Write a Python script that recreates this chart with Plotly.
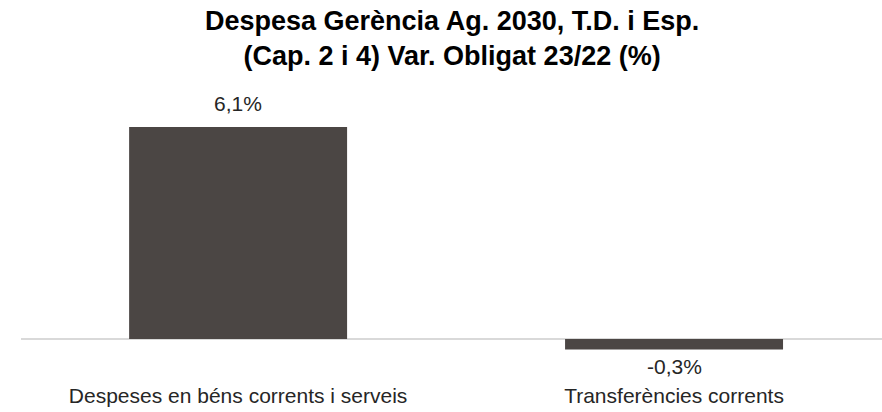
import plotly.graph_objects as go

# Variació de l'obligat 2023/2022 per capítol de despesa
categories = ["Despeses en béns corrents i serveis", "Transferències corrents"]
variation_pct = [6.1, -0.3]

bar_color = "#4b4644"
font_family = "Liberation Sans, Arial, sans-serif"

fig = go.Figure()
fig.add_trace(go.Bar(
    x=categories,
    y=variation_pct,
    width=0.5,
    marker=dict(color=bar_color, line=dict(width=0)),
    hoverinfo="skip",
))

# Etiquetes de valor amb coma decimal
for cat, v in zip(categories, variation_pct):
    label = f"{v:.1f}".replace(".", ",") + "%"
    fig.add_annotation(
        x=cat, y=v, xref="x", yref="y",
        text=label, showarrow=False,
        yanchor="middle",
        yshift=24 if v >= 0 else -17,
        font=dict(family=font_family, size=21, color="#262626"),
    )

# Títol en dues línies
fig.add_annotation(
    x=0.5, y=1.218, xref="paper", yref="paper",
    xanchor="center", yanchor="middle",
    text="<b>Despesa Gerència Ag. 2030, T.D. i Esp.<br>(Cap. 2 i 4) Var. Obligat 23/22 (%)</b>",
    showarrow=False,
    font=dict(family=font_family, size=27, color="#000000"),
)

fig.update_layout(
    width=882, height=412,
    margin=dict(l=21, r=0, t=100, b=32),
    paper_bgcolor="white", plot_bgcolor="white",
    showlegend=False,
    xaxis=dict(
        range=[-0.498, 1.477],
        showgrid=False, showline=False, ticks="",
        tickfont=dict(family=font_family, size=21, color="#262626"),
        ticklabelstandoff=1,
        automargin=False,
    ),
    yaxis=dict(
        range=[-1.18, 6.878],
        showgrid=False, showticklabels=False, ticks="",
        zeroline=True, zerolinecolor="#d9d9d9", zerolinewidth=2,
        automargin=False,
    ),
)

fig.write_html("out.html")
